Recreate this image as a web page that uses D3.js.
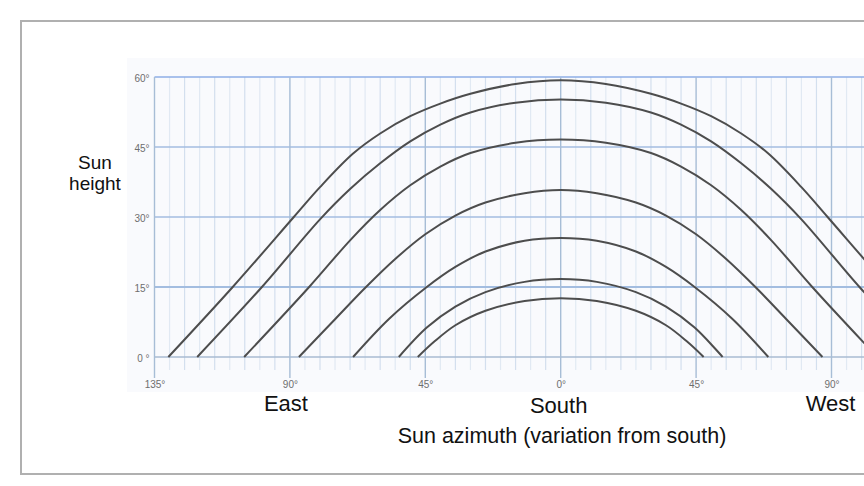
<!DOCTYPE html>
<html>
<head>
<meta charset="utf-8">
<script src="https://cdn.jsdelivr.net/npm/d3@7"></script>
<style>
  body { margin: 0; background: #fff; }
  svg { display: block; font-family: "Liberation Sans", Arial, sans-serif; }
</style>
</head>
<body>
<div id="chart"></div>
<script>
// azimuth: degrees from south, east negative; altitude: sun height in degrees
const xTicks = [-135, -90, -45, 0, 45, 90];
const xTickLabels = ['135°', '90°', '45°', '0°', '45°', '90°'];
const xGrid = [-135, -90, -45, 0, 45, 90, 135];
const yTicks = [0, 15, 30, 45, 60];
const yTickLabels = ['0 °', '15°', '30°', '45°', '60°'];
const directions = ['East', 'South', 'West'];
const directionAz = [-90, 0, 90];
const yTitleLines = ['Sun', 'height'];

const pathJun = [[-130.4, 0], [-109, 15], [-88.7, 30], [-80, 36.4], [-69, 43.6], [-60, 47.9], [-50, 51.6], [-40, 54.3], [-30, 56.4], [-15, 58.5], [0, 59.3],
  [15, 58.5], [30, 56.4], [40, 54.3], [50, 51.6], [60, 47.9], [69, 43.6], [80, 36.4], [88.7, 30], [109, 15], [130.4, 0]];
const pathMay = [[-120.8, 0], [-99.3, 15], [-80, 29.5], [-70, 36], [-60, 41.5], [-50, 46.2], [-40, 49.8], [-30, 52.4], [-15, 54.5], [0, 55.2],
  [15, 54.5], [30, 52.4], [40, 49.8], [50, 46.2], [60, 41.5], [70, 36], [80, 29.5], [99.3, 15], [120.8, 0]];
const pathApr = [[-105.2, 0], [-83.6, 15], [-70, 25], [-60, 31.5], [-50, 36.8], [-40, 40.8], [-30, 43.7], [-15, 45.9], [0, 46.6],
  [15, 45.9], [30, 43.7], [40, 40.8], [50, 36.8], [60, 31.5], [70, 25], [83.6, 15], [105.2, 0]];
const pathMar = [[-87, 0], [-75, 8.1], [-64.7, 15], [-55, 21], [-45, 26.3], [-35, 30.3], [-25, 33.1], [-12, 35.1], [0, 35.8],
  [12, 35.1], [25, 33.1], [35, 30.3], [45, 26.3], [55, 21], [64.7, 15], [75, 8.1], [87, 0]];
const pathFeb = [[-69, 0], [-57, 8.2], [-44.5, 15], [-35, 19.3], [-25, 22.6], [-12, 24.9], [0, 25.5],
  [12, 24.9], [25, 22.6], [35, 19.3], [44.5, 15], [57, 8.2], [69, 0]];
const pathJan = [[-53.8, 0], [-44.5, 6.3], [-35, 10.8], [-25, 13.9], [-12, 16.1], [0, 16.7],
  [12, 16.1], [25, 13.9], [35, 10.8], [44.5, 6.3], [53.8, 0]];
const pathDec = [[-47.5, 0], [-42, 3.3], [-35, 6.8], [-25, 9.9], [-12, 12], [0, 12.6],
  [12, 12], [25, 9.9], [35, 6.8], [42, 3.3], [47.5, 0]];
const sunPaths = [pathJun, pathMay, pathApr, pathMar, pathFeb, pathJan, pathDec];

const W = 864, H = 486;
const svg = d3.select('#chart').append('svg').attr('width', W).attr('height', H);

const x = d3.scaleLinear().domain([-135, 90]).range([154.5, 831.5]);
const y = d3.scaleLinear().domain([0, 60]).range([357, 77]);

// outer frame
svg.append('rect')
  .attr('x', 21).attr('y', 21).attr('width', 900).attr('height', 453)
  .attr('fill', '#fff').attr('stroke', '#b0b0b0').attr('stroke-width', 2);

// pale chart panel
svg.append('rect')
  .attr('x', 127).attr('y', 58).attr('width', 760).attr('height', 334)
  .attr('fill', '#f9fafd');

// minor vertical grid
const minor = d3.range(-135, 136, 5).filter(d => d % 45 !== 0);
svg.append('g').selectAll('line')
  .data(minor)
  .enter()
  .append('line')
  .attr('x1', d => x(d)).attr('x2', d => x(d))
  .attr('y1', y(60)).attr('y2', y(0) + 13)
  .attr('stroke', (d, i) => i % 2 ? '#d3dfee' : '#e1e9f3')
  .attr('stroke-width', 1.2);

// horizontal grid
svg.append('g').selectAll('line')
  .data(yTicks)
  .enter()
  .append('line')
  .attr('x1', x(-135)).attr('x2', W)
  .attr('y1', d => y(d)).attr('y2', d => y(d))
  .attr('stroke', d => d === 60 ? '#8eaee6' : (d === 0 ? '#a9bbd2' : '#a3bde0'))
  .attr('stroke-width', d => d === 15 ? 2 : 1.4);

// major vertical grid
svg.append('g').selectAll('line')
  .data(xGrid)
  .enter()
  .append('line')
  .attr('x1', d => x(d)).attr('x2', d => x(d))
  .attr('y1', y(60)).attr('y2', y(0) + 21)
  .attr('stroke', '#a7bdd6')
  .attr('stroke-width', 1.4);

// tick labels through the axis generators
const xAxis = d3.axisBottom(x)
  .tickValues(xTicks)
  .tickSize(0)
  .tickPadding(0)
  .tickFormat((d, i) => xTickLabels[i]);
const gx = svg.append('g').attr('transform', `translate(0,${y(0) + 24})`).call(xAxis);
gx.select('.domain').remove();
gx.selectAll('text').attr('font-size', 10).attr('fill', '#6e6e6e').attr('font-family', 'Liberation Sans, Arial');

const yAxis = d3.axisLeft(y)
  .tickValues(yTicks)
  .tickSize(0)
  .tickPadding(0)
  .tickFormat((d, i) => yTickLabels[i]);
const gy = svg.append('g').attr('transform', `translate(${x(-135) - 5},1)`).call(yAxis);
gy.select('.domain').remove();
gy.selectAll('text').attr('font-size', 10).attr('fill', '#6e6e6e').attr('font-family', 'Liberation Sans, Arial');

// sun paths
const line = d3.line()
  .x(d => x(d[0]))
  .y(d => y(d[1]))
  .curve(d3.curveCatmullRom.alpha(0.5));

svg.append('g').selectAll('path')
  .data(sunPaths)
  .enter()
  .append('path')
  .attr('d', line)
  .attr('fill', 'none')
  .attr('stroke', '#4d4d4d')
  .attr('stroke-width', 2);

// direction labels
svg.append('g').selectAll('text')
  .data(directions)
  .enter()
  .append('text')
  .attr('x', (d, i) => x(directionAz[i]) + [-4, -2, -1][i])
  .attr('y', (d, i) => i === 1 ? 413 : 411)
  .attr('text-anchor', 'middle')
  .attr('font-size', 22)
  .attr('fill', '#111')
  .text(d => d);

svg.append('text')
  .attr('x', 562).attr('y', 443)
  .attr('text-anchor', 'middle')
  .attr('font-size', 21.5)
  .attr('fill', '#111')
  .text('Sun azimuth (variation from south)');

// y title, two separate lines
svg.append('g').selectAll('text')
  .data(yTitleLines)
  .enter()
  .append('text')
  .attr('x', 95)
  .attr('y', (d, i) => 169 + i * 21)
  .attr('text-anchor', 'middle')
  .attr('font-size', 19)
  .attr('fill', '#111')
  .text(d => d);
</script>
</body>
</html>
